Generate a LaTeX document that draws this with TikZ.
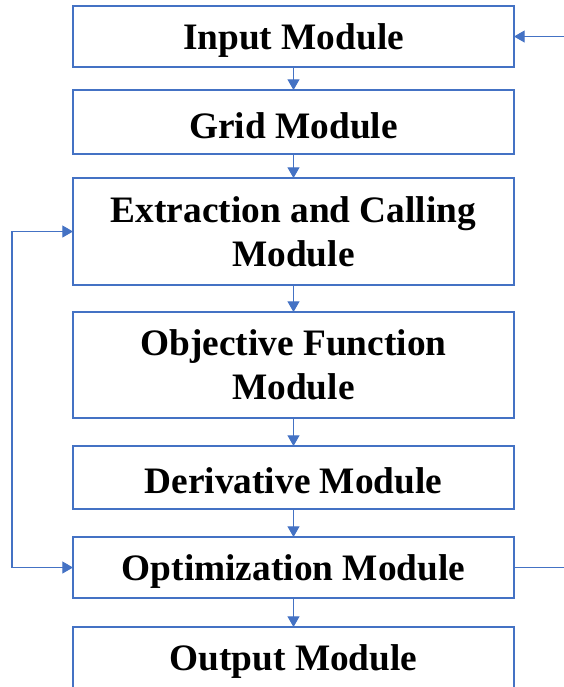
\documentclass[tikz,border=0pt]{standalone}
\usepackage{fontspec}
\setmainfont{Liberation Serif}
\usepackage{xcolor}
\usetikzlibrary{arrows.meta,positioning,calc}

\definecolor{boxblue}{HTML}{4472C4}

\tikzset{
    module/.style={draw=boxblue, line width=1.5pt, fill=white, minimum width=330.75pt,
        inner sep=0pt, outer sep=0pt, align=center,
        font=\fontsize{28}{33}\selectfont\bfseries,
        execute at begin node={\rule{0pt}{25pt}}},
    flow/.style={draw=boxblue, line width=0.8pt, -{Triangle[length=8pt,width=9pt]}}
}

\begin{document}
\begin{tikzpicture}[x=0.75pt,y=-0.75pt]
    \useasboundingbox (0,0) rectangle (564,687);
    \clip (0,0) rectangle (564,687);

    % the modules, top to bottom
    \node[module, minimum height=45.75pt] (input) at (293.5,36.5) {Input Module};
    \node[module, minimum height=48pt] (grid) at (293.5,122) {Grid Module};
    \node[module, minimum height=80.25pt] (extract) at (293.5,231.5) {Extraction and Calling\\Module};
    \node[module, minimum height=79.5pt] (objective) at (293.5,365) {Objective Function\\Module};
    \node[module, minimum height=47.25pt] (deriv) at (293.5,477.5) {Derivative Module};
    \node[module, minimum height=45.75pt] (optim) at (293.5,567.5) {Optimization Module};
    \node[module, minimum height=46.5pt] (output) at (293.5,658) {Output Module};

    % main chain
    \draw[flow] (input) -- (grid);
    \draw[flow] (grid) -- (extract);
    \draw[flow] (extract) -- (objective);
    \draw[flow] (objective) -- (deriv);
    \draw[flow] (deriv) -- (optim);
    \draw[flow] (optim) -- (output);

    % loop back on the left
    \coordinate (loopl) at (12,400);
    \draw[flow] (loopl |- optim.west) -- (optim.west);
    \draw[flow] (loopl |- optim.west) -- (loopl |- extract.west) -- (extract.west);

    % lines on the right
    \coordinate (rin) at (564,0);
    \draw[flow] (rin |- input.east) -- (input.east);
    \draw[draw=boxblue, line width=0.8pt] (optim.east) -- (rin |- optim.east);
\end{tikzpicture}
\end{document}
